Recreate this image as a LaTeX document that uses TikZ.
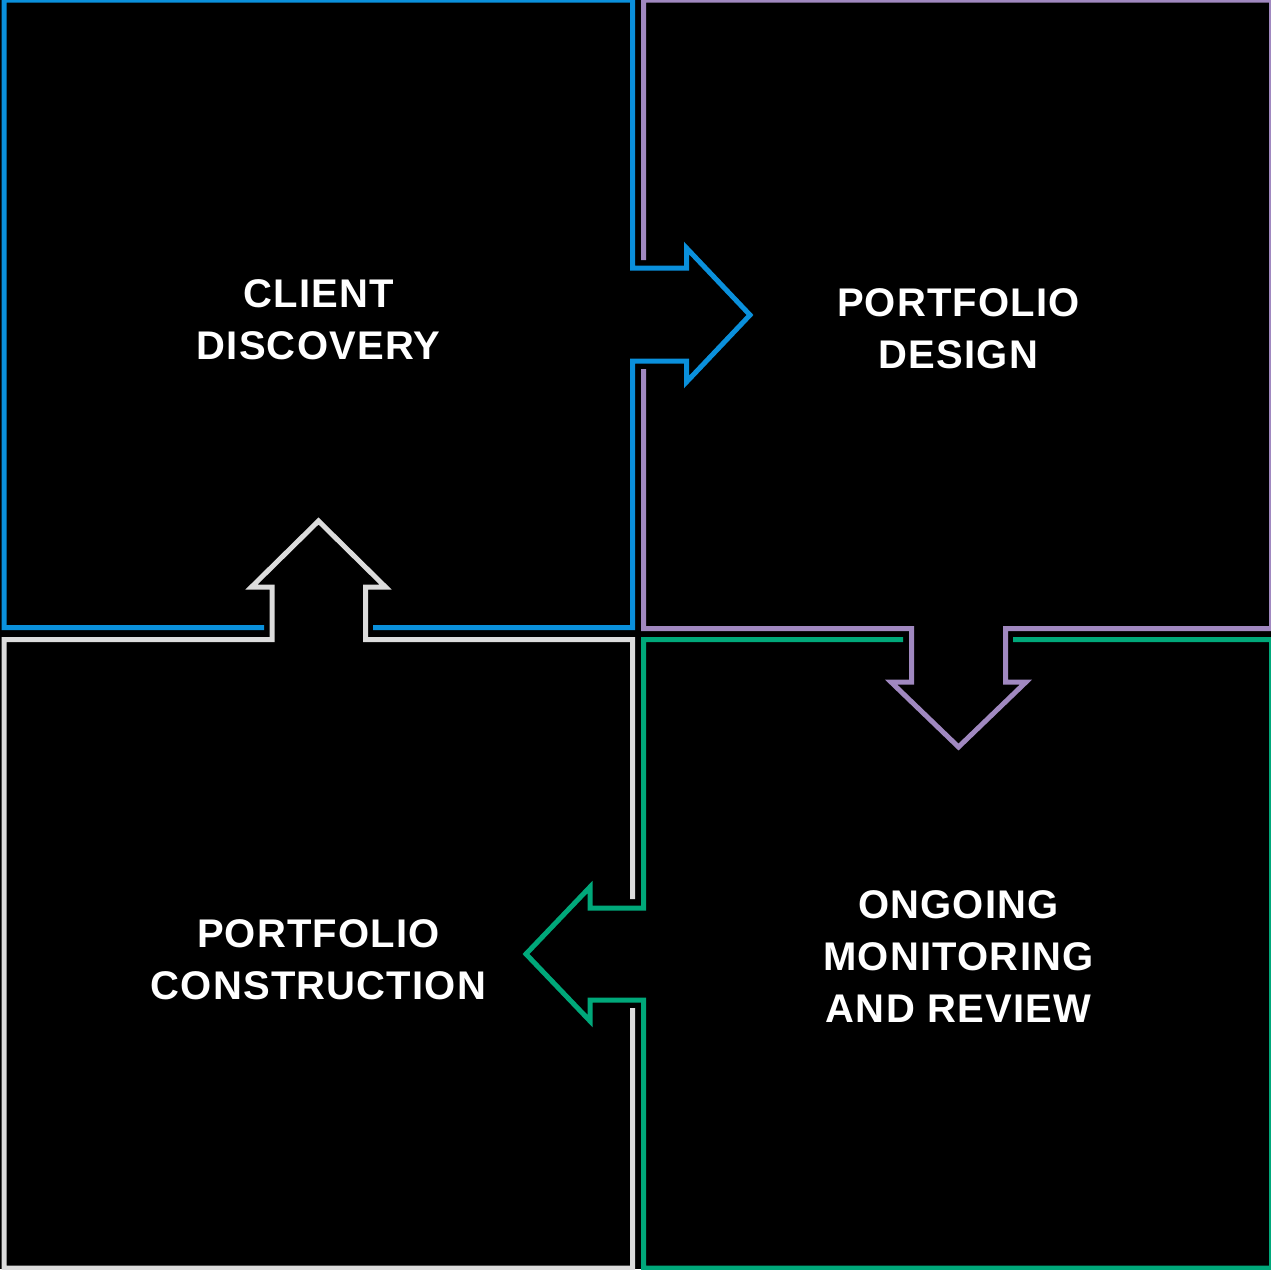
\documentclass[tikz,border=0pt]{standalone}
\usepackage{fontspec}
\setmainfont{Liberation Sans}
\newfontfamily\lblfont[LetterSpace=3]{Liberation Sans}
\usepackage{tikz}
\usetikzlibrary{calc,positioning}
\definecolor{cdblue}{HTML}{0A90DC}
\definecolor{cdpurple}{HTML}{A088C0}
\definecolor{cdgreen}{HTML}{00A87A}
\definecolor{cdgrey}{HTML}{DCDCDC}

\begin{document}
\begin{tikzpicture}[x = 1pt, y = -1pt,
  edge/.style = {line width = 5pt, line join = miter},
  lbl/.style = {text = white, align = center, inner sep = 0pt,
    font = \lblfont\fontsize{40}{52}\selectfont\bfseries}]
\useasboundingbox (0,0) rectangle (1271,1269);
\fill[black] (0,0) rectangle (1271,1269);
%\draw (0,0) grid (1271,1269);
\draw[edge, cdblue] (373,627.5) -- (632.5,627.5) -- (632.5,361) -- (686.5,361) -- (686.5,382) -- (750,315) -- (686.5,248) -- (686.5,268) -- (632.5,268) -- (632.5,0) -- (4,0) -- (4,627.5) -- (264,627.5);
\draw[edge, cdpurple] (643.5,260) -- (643.5,0) -- (1271.5,0) -- (1271.5,628.5) -- (1005.5,628.5) -- (1005.5,682) -- (1026,682) -- (958.5,747) -- (891,682) -- (911.5,682) -- (911.5,628.5) -- (643.5,628.5) -- (643.5,369);
\draw[edge, cdgreen] (1013,639.5) -- (1271.5,639.5) -- (1271.5,1268) -- (643.5,1268) -- (643.5,1000) -- (590,1000) -- (590,1021) -- (526,954) -- (590,887) -- (590,908) -- (643.5,908) -- (643.5,639.5) -- (903,639.5);
\draw[edge, cdgrey] (632.5,899) -- (632.5,639.5) -- (365.5,639.5) -- (365.5,587) -- (385.5,587) -- (318.5,521) -- (251.5,587) -- (272,587) -- (272,639.5) -- (4,639.5) -- (4,1268) -- (632.5,1268) -- (632.5,1008);
\path (318.5,320) node[lbl] (discovery) {CLIENT\\DISCOVERY};
\path (958.5,328.5) node[lbl] (design) {PORTFOLIO\\DESIGN};
\path (318.5,959.5) node[lbl] (construction) {PORTFOLIO\\CONSTRUCTION};
\path (958.5,956.5) node[lbl] (monitoring) {ONGOING\\MONITORING\\AND REVIEW};
\end{tikzpicture}
\end{document}
